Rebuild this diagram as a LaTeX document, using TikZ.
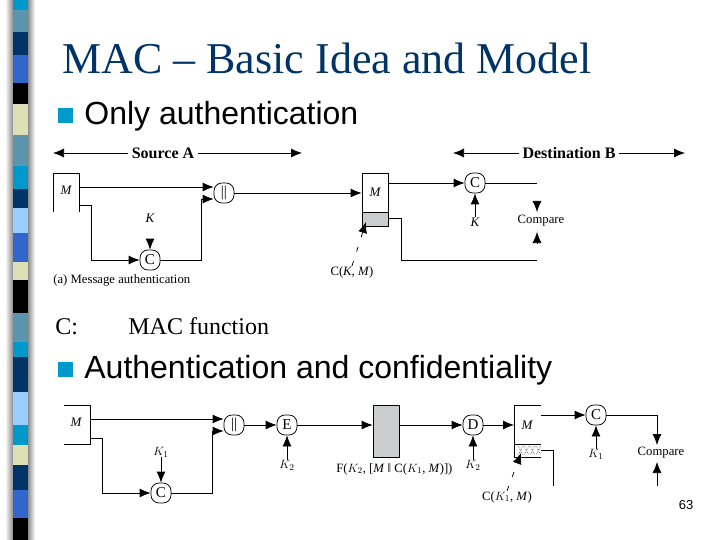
\documentclass[tikz,border=0pt]{standalone}
\usepackage{fontspec}
\setmainfont{Liberation Serif}
\setsansfont{Liberation Sans}
\usepackage{tikz}
\usetikzlibrary{arrows.meta}
\definecolor{navy}{HTML}{003366}
\definecolor{steel}{HTML}{5B94AD}
\definecolor{cyanblue}{HTML}{0099CC}
\definecolor{midblue}{HTML}{3366CC}
\definecolor{skyblue}{HTML}{99CCFF}
\definecolor{beige}{HTML}{DDDFB5}
\definecolor{boxgray}{HTML}{CBCCCE}

\begin{document}
\begin{tikzpicture}[
  x=1pt,y=-1pt,
  line width=.75pt,
  >={Latex[length=11pt,width=9pt]},
  slidetitle/.style={font={\fontsize{44}{44}\selectfont},text=navy,anchor=base west,inner sep=0},
  bigtext/.style={font={\fontsize{32}{32}\sffamily\selectfont},anchor=base west,inner sep=0},
  plaintext/.style={font={\fontsize{24}{24}\selectfont},anchor=base west,inner sep=0},
  bullet/.style={fill=cyanblue,inner sep=0,minimum size=15pt},
  tinytext/.style={font={\fontsize{12.7}{12.7}\selectfont},inner sep=0},
  keytext/.style={font={\fontsize{13}{13}\selectfont\itshape},inner sep=0},
  party/.style={font={\fontsize{16}{16}\selectfont\bfseries},inner sep=0,minimum width=70pt},
  func/.style={draw,fill=white,rounded corners=8pt,minimum size=20pt,inner sep=0,
    font={\fontsize{15}{15}\selectfont}},
  block/.style={draw,inner sep=0},
  tagline/.style={->,dash pattern=on 5pt off 10pt},
  ]
  \useasboundingbox (0,0) rectangle (720,540);
  % Left stripe
  \shade[left color=white,right color=black!45] (5,0) rectangle (13,540);
  \shade[left color=black!45,right color=white] (28,0) rectangle (35,540);
  \foreach \ya/\yb/\col in {0/10/cyanblue,10/32/steel,32/55/navy,55/83/midblue,83/104/black,
    104/135/beige,135/166/steel,166/189/cyanblue,189/208/navy,208/233/skyblue,233/262/midblue,
    262/280/beige,280/313/black,313/342/steel,342/357/cyanblue,357/392/navy,392/425/skyblue,
    425/445/cyanblue,445/465/beige,465/490/navy,490/518/midblue,518/540/black}
    \fill[\col] (13,\ya) rectangle (28,\yb);
  % Slide text
  \node[slidetitle] (heading) at (62,74) {MAC – Basic Idea and Model};
  \node[bullet] (bulletA) at (65.5,115.5) {};
  \node[bigtext] (onlyauth) at (84,125) {Only authentication};
  \node[plaintext] (clabel) at (55,334) {C:};
  \node[plaintext] (cfunc) at (128,334) {MAC function};
  \node[bullet] (bulletB) at (65.5,369) {};
  \node[bigtext] (authconf) at (84,378) {Authentication and confidentiality};
  \node[font={\fontsize{13}{13}\sffamily\selectfont},inner sep=0] (pageno) at (686,505) {63};

  % Message authentication: extents
  \node[party] (srcA) at (163,153) {Source A};
  \coordinate (srcL) at (53,153);
  \coordinate (srcR) at (302,153);
  \draw[->] (srcA) -- (srcL);
  \draw[->] (srcA) -- (srcR);
  \node[party,minimum width=100pt] (dstB) at (569,153) {Destination B};
  \coordinate (dstL) at (453,153);
  \coordinate (dstR) at (685,153);
  \draw[->] (dstB) -- (dstL);
  \draw[->] (dstB) -- (dstR);
  % Message authentication: sender
  \node[keytext] (srcM) at (66,190) {M};
  \draw (53,212) -- (53,173) -- (79,173) -- (79,212);
  \node[func] (concatA) at (224,193) {||};
  \node[func] (macA) at (150,260) {C};
  \node[keytext] (keyA) at (150,218) {K};
  \coordinate (srcOutA) at (79,187);
  \coordinate (srcOutB) at (79,205);
  \coordinate (macKey) at (150,239);
  \coordinate (elbowA) at (201,199);
  \draw[->] (srcOutA) -- (concatA.west |- srcOutA);
  \draw[->] (srcOutB) -| (91,260) -- (macA);
  \draw[->] (macKey) -- (macA);
  \draw[->] (macA) -| (elbowA) -- (concatA.west |- elbowA);
  \node[tinytext,anchor=west] (captionA) at (53,280) {(a) Message authentication};
  % Message authentication: receiver
  \node[block,minimum width=26pt,minimum height=53pt] (rcvBox) at (375,199.5) {};
  \fill[boxgray,draw=black] (362,212) rectangle (388,226);
  \node[keytext] (rcvM) at (375,192) {M};
  \node[func] (macB) at (475,183) {C};
  \node[keytext] (keyB) at (475,222) {K};
  \node[tinytext] (compareA) at (541,221) {Compare};
  \coordinate (rcvOutA) at (388,183);
  \coordinate (rcvOutB) at (388,218);
  \coordinate (topEnd) at (537,183);
  \coordinate (botEnd) at (537,260);
  \coordinate (cmpTopA) at (537,201);
  \coordinate (cmpTopB) at (537,212);
  \coordinate (cmpBotA) at (537,243);
  \coordinate (cmpBotB) at (537,232);
  \draw[->] (concatA) -- (rcvBox.west |- concatA);
  \draw[->] (rcvOutA) -- (macB);
  \draw (macB.east) -- (topEnd);
  \draw[->] (keyB) -- (macB);
  \draw (rcvOutB) -| (401,260) -- (botEnd);
  \draw[->] (cmpTopA) -- (cmpTopB);
  \draw[->] (cmpBotA) -- (cmpBotB);
  \node[tinytext] (tagA) at (352,272) {C(\textit{K}, \textit{M})};
  \coordinate (tagTipA) at (366,222);
  \draw[tagline] (tagA.north) -- (tagTipA);

  % Authentication and confidentiality: sender
  \node[keytext] (sndM) at (76,422) {M};
  \draw (64,405) -- (90,405) -- (90,444) -- (64,444);
  \node[func] (concatB) at (234,425) {||};
  \node[func] (macC) at (161,493) {C};
  \node[func] (encE) at (287,425) {E};
  \node[tinytext] (keyC) at (161,452) {$K_1$};
  \node[tinytext] (keyD) at (287,465) {$K_2$};
  \coordinate (sndOutA) at (90,419);
  \coordinate (sndOutB) at (90,438);
  \coordinate (elbowB) at (212,431);
  \draw[->] (sndOutA) -- (concatB.west |- sndOutA);
  \draw[->] (sndOutB) -| (102,493) -- (macC);
  \draw[->] (keyC) -- (macC);
  \draw[->] (macC) -| (elbowB) -- (concatB.west |- elbowB);
  \draw[->] (concatB) -- (encE);
  \draw[->] (keyD) -- (encE);
  % Authentication and confidentiality: ciphertext
  \node[block,fill=boxgray,minimum width=26pt,minimum height=52pt] (cipher) at (386,431) {};
  \node[tinytext,anchor=west] (cipherTag) at (336,469) {F($K_2$, [\textit{M} ‖ C($K_1$, \textit{M})])};
  \draw[->] (encE) -- (cipher.west |- encE);
  % Authentication and confidentiality: receiver
  \node[func] (decD) at (473,425) {D};
  \node[tinytext] (keyE) at (473,465) {$K_2$};
  \node[keytext] (plainM) at (527,425) {M};
  \draw (541,405) -- (514,405) -- (514,457) -- (541,457);
  \draw (514,444) -- (541,444);
  \foreach \xa in {518,524,530,536}
    \draw[black!55,densely dotted] (\xa,446) -- +(5,9) (\xa+5,446) -- +(-5,9);
  \node[func] (macD) at (596,415) {C};
  \node[tinytext] (keyF) at (596,454) {$K_1$};
  \node[tinytext] (compareB) at (661,453) {Compare};
  \coordinate (plainIn) at (514,425);
  \coordinate (plainOutA) at (541,415);
  \coordinate (plainOutB) at (541,450);
  \coordinate (plainEnd) at (553,486);
  \coordinate (cmpElbow) at (657,415);
  \coordinate (cmpIn) at (657,445);
  \coordinate (cmpLow) at (657,486);
  \coordinate (cmpUp) at (657,462);
  \draw[->] (cipher.east |- decD) -- (decD);
  \draw[->] (keyE) -- (decD);
  \draw[->] (decD) -- (plainIn);
  \draw[->] (plainOutA) -- (macD);
  \draw[->] (keyF) -- (macD);
  \draw[->] (macD) -- (cmpElbow) -- (cmpIn);
  \draw[->] (cmpLow) -- (cmpUp);
  \draw (plainOutB) -| (plainEnd);
  \node[tinytext] (tagB) at (507,497) {C($K_1$, \textit{M})};
  \coordinate (tagTipB) at (521,453);
  \draw[tagline] (tagB.north) -- (tagTipB);
\end{tikzpicture}
\end{document}
